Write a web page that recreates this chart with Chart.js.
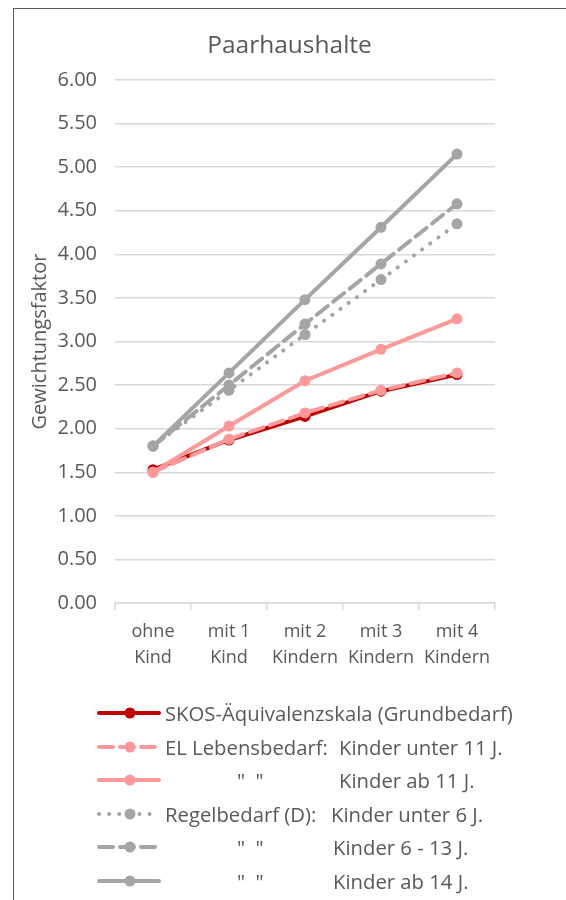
<!DOCTYPE html>
<html>
<head>
<meta charset="utf-8">
<script src="https://cdn.jsdelivr.net/npm/chart.js@4/dist/chart.umd.min.js"></script>
<style>
  html, body { margin: 0; padding: 0; background: #fff; }
  body { width: 566px; height: 900px; position: relative; overflow: hidden; font-family: "Open Sans", sans-serif; }
  #frame { position: absolute; left: 13px; top: 8px; width: 600px; height: 950px; border-left: 1px solid #595959; border-top: 1px solid #595959; box-sizing: border-box; }
  #wrap { position: absolute; left: 0; top: 0; width: 566px; height: 690px; }
  #legend { position: absolute; left: 0; top: 0; width: 566px; height: 900px; pointer-events: none; }
  .lrow { position: absolute; left: 0; height: 30px; width: 566px; }
  .lrow svg { position: absolute; left: 92px; top: 0; }
  .ltxt { position: absolute; top: 0; line-height: 30px; font-size: 20.3px; color: #595959; white-space: pre; }
</style>
</head>
<body>
<div id="frame"></div>
<div id="wrap"><canvas id="c" width="566" height="690"></canvas></div>
<div id="legend"></div>
<script>
// ---- data ----
const categories = [["ohne", "Kind"], ["mit 1", "Kind"], ["mit 2", "Kindern"], ["mit 3", "Kindern"], ["mit 4", "Kindern"]];
const yTicks = [0, 0.5, 1, 1.5, 2, 2.5, 3, 3.5, 4, 4.5, 5, 5.5, 6];

const skos        = [1.53, 1.87, 2.14, 2.43, 2.62];
const elUnter11   = [1.50, 1.88, 2.18, 2.44, 2.64];
const elAb11      = [1.50, 2.03, 2.55, 2.91, 3.26];
const regelUnter6 = [1.80, 2.44, 3.08, 3.71, 4.35];
const regel6bis13 = [1.80, 2.50, 3.20, 3.89, 4.58];
const regelAb14   = [1.80, 2.64, 3.48, 4.31, 5.15];

const seriesNames = [
  "SKOS-Äquivalenzskala (Grundbedarf)",
  "EL Lebensbedarf:  Kinder unter 11 J.",
  "\"  \"  Kinder ab 11 J.",
  "Regelbedarf (D):  Kinder unter 6 J.",
  "\"  \"  Kinder 6 - 13 J.",
  "\"  \"  Kinder ab 14 J."
];
// legend text parts (first column, second column)
const legendParts = [
  ["SKOS-Äquivalenzskala (Grundbedarf)", ""],
  ["EL Lebensbedarf:", "Kinder unter 11 J."],
  ["\"  \"", "Kinder ab 11 J."],
  ["Regelbedarf (D):", "Kinder unter 6 J."],
  ["\"  \"", "Kinder 6 - 13 J."],
  ["\"  \"", "Kinder ab 14 J."]
];

const RED = "#c00000", PINK = "#ff9999", GRAY = "#a5a5a5";
const styles = [
  { color: RED,  dash: [] },
  { color: PINK, dash: [14, 7] },
  { color: PINK, dash: [] },
  { color: GRAY, dash: [0.1, 10] },
  { color: GRAY, dash: [14, 7] },
  { color: GRAY, dash: [] }
];
const allData = [skos, elUnter11, elAb11, regelUnter6, regel6bis13, regelAb14];

const datasets = allData.map((d, i) => ({
  label: seriesNames[i],
  data: d,
  borderColor: styles[i].color,
  backgroundColor: styles[i].color,
  pointBackgroundColor: styles[i].color,
  pointBorderColor: styles[i].color,
  borderWidth: 4,
  borderDash: styles[i].dash,
  borderCapStyle: "round",
  pointRadius: 5.5,
  pointHoverRadius: 5.5,
  pointBorderWidth: 0,
  tension: 0,
  order: 6 - i,
  yAxisID: "y"
}));

const TXT = "#595959", GRID = "#d9d9d9";

new Chart(document.getElementById("c"), {
  type: "line",
  data: { labels: categories, datasets },
  options: {
    responsive: false,
    animation: false,
    layout: { padding: { left: 13, right: 0, top: 10, bottom: 7 } },
    plugins: {
      legend: { display: false },
      tooltip: { enabled: false },
      title: {
        display: true,
        text: "Paarhaushalte",
        color: TXT,
        font: { family: "Open Sans", size: 24.5, weight: "normal", lineHeight: 1.2 },
        padding: { top: 21, bottom: 19.6 }
      }
    },
    scales: {
      x: {
        offset: true,
        grid: { display: true, drawOnChartArea: false, drawTicks: true, tickLength: 7, color: GRID, lineWidth: 1.5, offset: true },
        border: { display: true, color: GRID, width: 1.5 },
        ticks: { color: TXT, font: { family: "Open Sans", size: 18, lineHeight: 1.45 }, padding: 9, maxRotation: 0, autoSkip: false },
        afterFit: (s) => { s.height = 80; }
      },
      y: {
        min: 0, max: 6,
        afterBuildTicks: (s) => { s.ticks = yTicks.map(v => ({ value: v })); },
        grid: { color: GRID, lineWidth: 1.5, drawTicks: false },
        border: { display: false },
        ticks: { color: TXT, font: { family: "Open Sans", size: 20 }, padding: 18, callback: (v) => Number(v).toFixed(2) },
        title: { display: true, text: "Gewichtungsfaktor", color: TXT, font: { family: "Open Sans", size: 20, lineHeight: 1.2 }, padding: { top: 15, bottom: 0 } },
        afterFit: (s) => { s.width = 102; }
      },
      yRight: {
        position: "right",
        min: 0, max: 6,
        display: true,
        grid: { display: false, drawTicks: false },
        border: { display: false },
        ticks: { display: false },
        afterFit: (s) => { s.width = 71; }
      }
    }
  }
});

// ---- legend (HTML, built from the series arrays) ----
const legend = document.getElementById("legend");
const rowTops = [698, 732, 765, 799, 832, 866];
const col2X = [0, 339, 339, 331, 333, 333];
const col1X = [165, 165, 237, 165, 237, 237];
legendParts.forEach((p, i) => {
  const row = document.createElement("div");
  row.className = "lrow";
  row.style.top = rowTops[i] + "px";
  row.title = seriesNames[i];
  const st = styles[i];
  const dash = st.dash.length ? `stroke-dasharray="${st.dash.join(",")}"` : "";
  row.innerHTML =
    `<svg width="76" height="30" viewBox="0 0 76 30">
       <line x1="7" y1="15" x2="67" y2="15" stroke="${st.color}" stroke-width="4" stroke-linecap="round" ${dash}/>
       <circle cx="38" cy="15" r="5.5" fill="${st.color}"/>
     </svg>` +
    `<span class="ltxt" style="left:${col1X[i]}px">${p[0]}</span>` +
    (p[1] ? `<span class="ltxt" style="left:${col2X[i]}px">${p[1]}</span>` : "");
  legend.appendChild(row);
});
</script>
</body>
</html>
